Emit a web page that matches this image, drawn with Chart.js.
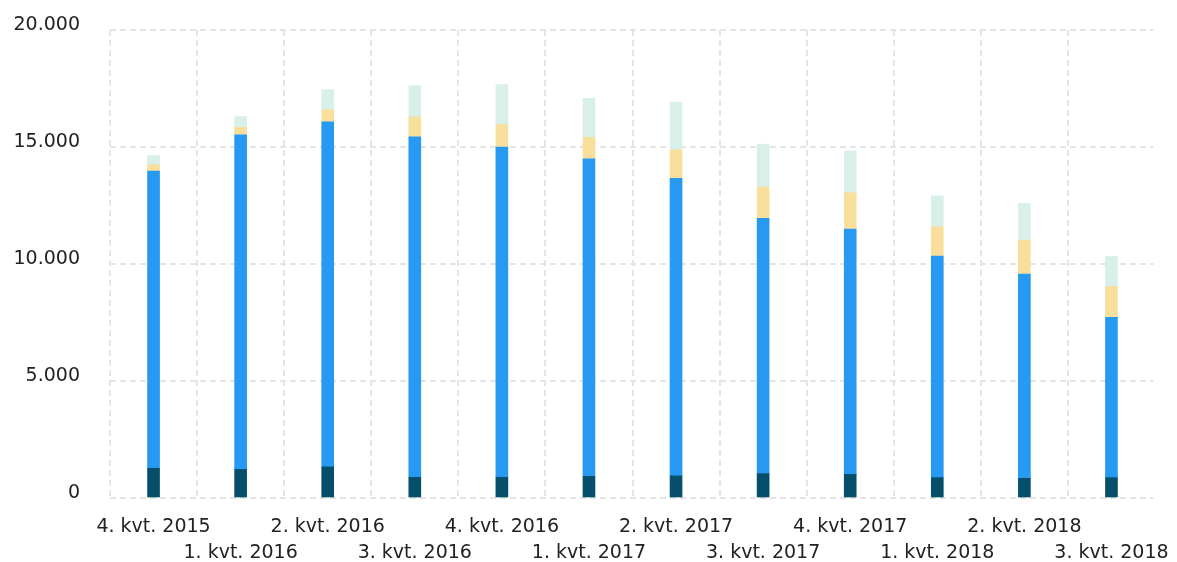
<!DOCTYPE html>
<html>
<head>
<meta charset="utf-8">
<script src="https://cdn.jsdelivr.net/npm/chart.js@4.4.1/dist/chart.umd.min.js"></script>
<style>
  html, body { margin: 0; padding: 0; background: #fff; }
  #wrap { width: 1177px; height: 562px; }
</style>
</head>
<body>
<div id="wrap"><canvas id="graf"></canvas></div>
<script>
// kvartaler
const kvartaler = [
    '4. kvt. 2015', '1. kvt. 2016', '2. kvt. 2016', '3. kvt. 2016',
    '4. kvt. 2016', '1. kvt. 2017', '2. kvt. 2017', '3. kvt. 2017',
    '4. kvt. 2017', '1. kvt. 2018', '2. kvt. 2018', '3. kvt. 2018'
];

// serier
const serieMoerk = [1270, 1225, 1330, 885, 885, 925, 945, 1040, 1010, 870, 840, 870];
const serieBlaa  = [12700, 14300, 14750, 14550, 14110, 13570, 12720, 10910, 10480, 9470, 8730, 6855];
const serieGul   = [270, 315, 515, 855, 970, 915, 1210, 1340, 1555, 1255, 1455, 1315];
const serieMint  = [400, 460, 855, 1330, 1700, 1670, 2045, 1830, 1785, 1315, 1570, 1285];

const yTicks = [0, 5000, 10000, 15000, 20000];

const gridFarve = '#e4e4e4';
const tekstFarve = '#222';
const skrift = { family: 'DejaVu Sans', size: 19 };

// skiftevis øverste / nederste række
const labels = kvartaler.map((k, i) => i % 2 === 0 ? [k, ''] : ['', k]);

function formatTal(v) {
    return String(v).replace(/\B(?=(\d{3})+(?!\d))/g, '.');
}

function serie(data, farve) {
    return {
        data: data,
        backgroundColor: farve,
        borderWidth: 0,
        barThickness: 12
    };
}

// skjuler den lodrette linje i højre kant af plotområdet
const udenHoejreKant = {
    id: 'udenHoejreKant',
    afterDraw: chart => {
        const a = chart.chartArea;
        const ctx = chart.ctx;
        ctx.save();
        ctx.fillStyle = '#fff';
        ctx.fillRect(a.right - 1.5, a.top - 3, 5, a.bottom - a.top + 6);
        ctx.restore();
    }
};

new Chart(document.getElementById('graf'), {
    type: 'bar',
    data: {
        labels: labels,
        datasets: [
            serie(serieMoerk, '#064f6b'),
            serie(serieBlaa, '#2699f3'),
            serie(serieGul, '#f8e09c'),
            serie(serieMint, '#d9f0ea')
        ]
    },
    plugins: [udenHoejreKant],
    options: {
        responsive: true,
        maintainAspectRatio: false,
        animation: false,
        layout: { padding: { left: 12, right: 22, top: 30, bottom: 0 } },
        plugins: { legend: { display: false }, tooltip: { enabled: false } },
        scales: {
            x: {
                stacked: true,
                border: { display: false, dash: [6, 4] },
                grid: {
                    offset: true,
                    drawTicks: false,
                    lineWidth: 2,
                    color: gridFarve
                },
                afterFit: axis => {
                    axis.paddingLeft = 0;
                    axis.paddingRight = 0;
                    axis.height = 64;
                },
                ticks: {
                    autoSkip: false,
                    maxRotation: 0,
                    minRotation: 0,
                    padding: 16,
                    color: tekstFarve,
                    font: Object.assign({ lineHeight: 1.37 }, skrift)
                }
            },
            y: {
                stacked: true,
                min: 0,
                max: 20000,
                border: { display: false, dash: [6, 4] },
                afterBuildTicks: axis => { axis.ticks = yTicks.map(v => ({ value: v })); },
                afterFit: axis => {
                    axis.width = 98;
                    axis.paddingTop = 0;
                    axis.paddingBottom = 0;
                },
                grid: {
                    drawTicks: false,
                    lineWidth: 2,
                    color: gridFarve
                },
                ticks: {
                    padding: 30,
                    labelOffset: -5,
                    color: tekstFarve,
                    font: skrift,
                    callback: v => formatTal(v)
                }
            }
        }
    }
});
</script>
</body>
</html>
